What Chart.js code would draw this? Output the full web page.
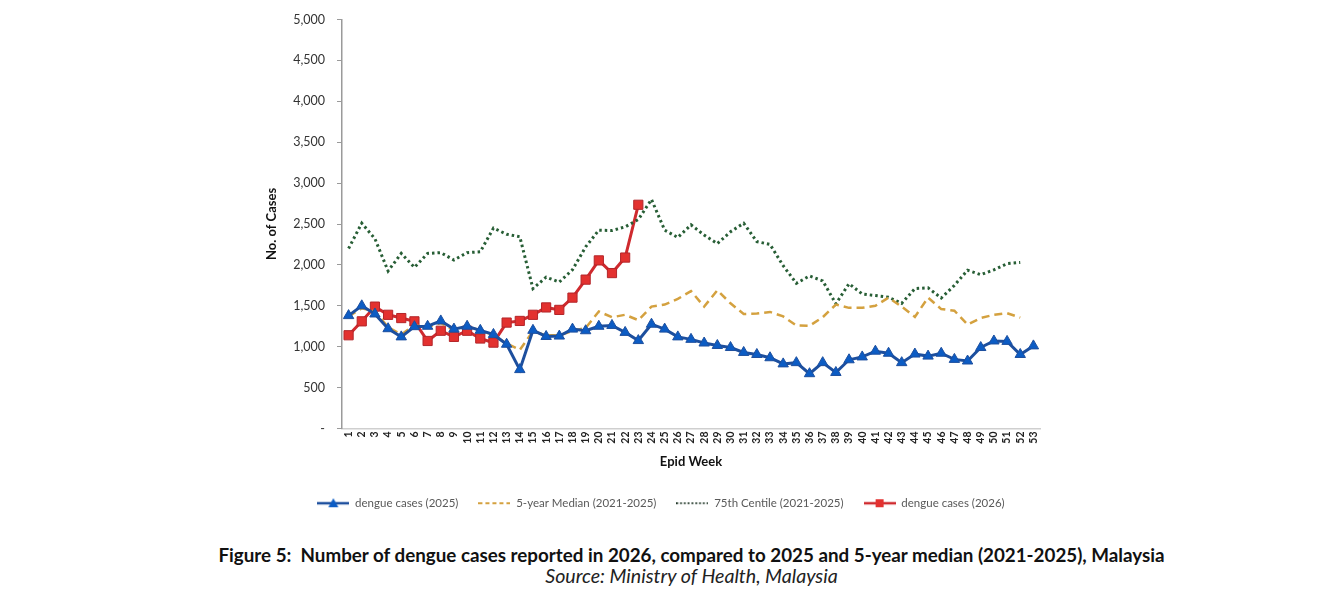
<!DOCTYPE html>
<html>
<head>
<meta charset="utf-8">
<script src="https://cdn.jsdelivr.net/npm/chart.js@4.4.1/dist/chart.umd.min.js"></script>
<style>
  html, body { margin: 0; padding: 0; background: #fff; }
  #wrap { position: relative; width: 1331px; height: 594px; overflow: hidden; }
  #chartBox { position: absolute; left: 0; top: 0; width: 1331px; height: 530px; }
  .cap { position: absolute; left: 26px; width: 1331px; text-align: center; font-family: Lato, "Liberation Sans", sans-serif; color: #111; white-space: nowrap; line-height: 1.2; }
  #fig { top: 544px; font-weight: bold; font-size: 18.8px; }
  #src { top: 564px; font-style: italic; font-size: 19.6px; color: #222; }
</style>
</head>
<body>
<div id="wrap">
  <div id="chartBox"><canvas id="chart"></canvas></div>
  <div class="cap" id="fig">Figure 5:&nbsp; Number of dengue cases reported in 2026, compared to 2025 and 5-year median (2021-2025), Malaysia</div>
  <div class="cap" id="src">Source: Ministry of Health, Malaysia</div>
</div>
<script>
(() => {
  "use strict";

// data
const weeks = ["1","2","3","4","5","6","7","8","9","10","11","12","13","14","15","16","17","18","19","20",
  "21","22","23","24","25","26","27","28","29","30","31","32","33","34","35","36","37","38","39","40",
  "41","42","43","44","45","46","47","48","49","50","51","52","53"];

const cases2025 = [1380,1500,1400,1220,1120,1245,1250,1315,1215,1250,1200,1150,1030,720,1200,1125,1130,1215,1195,1250,
  1260,1175,1075,1275,1215,1120,1090,1045,1015,990,930,905,865,790,805,670,805,685,840,875,
  945,920,805,910,885,920,845,825,990,1070,1065,905,1010];

const median5y = [1370,1470,1430,1240,1150,1260,1240,1290,1200,1250,1200,1140,1040,960,1190,1140,1140,1190,1230,1430,
  1360,1390,1325,1490,1515,1585,1680,1490,1690,1530,1400,1405,1425,1370,1260,1255,1360,1515,1475,1475,
  1500,1600,1490,1365,1600,1460,1440,1270,1350,1390,1410,1355,null];

const centile75 = [2200,2510,2320,1925,2140,1970,2140,2150,2060,2150,2160,2450,2375,2345,1710,1850,1790,1940,2220,2425,
  2420,2465,2555,2800,2425,2335,2490,2365,2260,2405,2510,2285,2250,1990,1775,1865,1805,1525,1770,1645,
  1625,1605,1530,1710,1720,1595,1750,1935,1880,1940,2015,2030,null];

const cases2026 = [1140,1310,1490,1390,1350,1310,1070,1195,1120,1195,1100,1050,1295,1315,1390,1480,1450,1600,1820,2055,
  1900,2090,2735];

const yTicks = [0,500,1000,1500,2000,2500,3000,3500,4000,4500,5000];

const FONT = "Lato, 'Liberation Sans', sans-serif";

const BLUE_LINE = "#1d4f9e";
const BLUE_PT = "#0c5cc4";
const GOLD = "#d4a13f";
const GREEN = "#275e35";
const RED_LINE = "#cf2a2e";
const RED_PT = "#e3312f";

// little line+marker swatch for the legend
function swatch(color, dash, width, marker, markerFill) {
  const c = document.createElement("canvas");
  c.width = 32; c.height = 14;
  const g = c.getContext("2d");
  g.strokeStyle = color;
  g.lineWidth = width;
  g.setLineDash(dash);
  g.beginPath(); g.moveTo(0, 7); g.lineTo(32, 7); g.stroke();
  g.setLineDash([]);
  if (marker === "triangle") {
    g.fillStyle = markerFill;
    g.beginPath(); g.moveTo(16, 2); g.lineTo(21, 11); g.lineTo(11, 11); g.closePath(); g.fill();
  } else if (marker === "rect") {
    g.fillStyle = markerFill;
    g.fillRect(12, 3, 8, 8);
  }
  return c;
}

const legendSwatches = [
  swatch(BLUE_LINE, [], 2.5, "triangle", BLUE_PT),
  swatch(GOLD, [4, 3], 2, null),
  swatch("#1e3526", [1.6, 2.2], 2, null),
  swatch(RED_LINE, [], 2.5, "rect", RED_PT)
];

const ctx = document.getElementById("chart");

new Chart(ctx, {
  type: "line",
  data: {
    labels: weeks,
    datasets: [
      { label: "dengue cases (2025)", data: cases2025, borderColor: BLUE_LINE, borderWidth: 3,
        pointStyle: "triangle", pointRadius: 6, pointBackgroundColor: BLUE_PT, pointBorderColor: BLUE_LINE, pointBorderWidth: 1 },
      { label: "5-year Median (2021-2025)", data: median5y, borderColor: GOLD, borderWidth: 2.5,
        borderDash: [8, 5], pointRadius: 0 },
      { label: "75th Centile (2021-2025)", data: centile75, borderColor: GREEN, borderWidth: 3,
        borderDash: [2.5, 3], pointRadius: 0 },
      { label: "dengue cases (2026)", data: cases2026, borderColor: RED_LINE, borderWidth: 3,
        pointStyle: "rect", pointRadius: 6.5, pointBackgroundColor: RED_PT, pointBorderColor: "#b3262a", pointBorderWidth: 1 }
    ]
  },
  options: {
    responsive: true,
    maintainAspectRatio: false,
    animation: false,
    layout: { padding: { left: 282, right: 291, top: 19, bottom: 11 } },
    elements: { line: { tension: 0 } },
    plugins: {
      tooltip: { enabled: false },
      legend: {
        position: "bottom",
        labels: {
          usePointStyle: true,
          pointStyleWidth: 32,
          padding: 20,
          color: "#595959",
          font: { family: FONT, size: 11.5 },
          generateLabels(chart) {
            return chart.data.datasets.map((ds, i) => ({
              text: ds.label,
              pointStyle: legendSwatches[i],
              fillStyle: "transparent",
              strokeStyle: "transparent",
              lineWidth: 0,
              fontColor: "#595959",
              datasetIndex: i,
              hidden: false
            }));
          }
        }
      }
    },
    scales: {
      x: {
        offset: true,
        grid: { display: false, drawTicks: false },
        border: { display: true, color: "#cfcfcf", width: 1.5, dash: [2, 2] },
        ticks: {
          autoSkip: false, minRotation: 90, maxRotation: 90, padding: 3,
          color: "#222", font: { family: FONT, size: 10.5, weight: "bold" }
        },
        title: {
          display: true, text: "Epid Week", color: "#111",
          font: { family: FONT, size: 13, weight: "bold" },
          padding: { top: 0, bottom: 8 }
        },
        afterFit(s) { s.height = 49; }
      },
      y: {
        min: 0, max: 5000,
        afterBuildTicks(s) { s.ticks = yTicks.map(v => ({ value: v })); },
        grid: { drawOnChartArea: false, drawTicks: true, tickLength: 5, color: "#9a9a9a" },
        border: { display: true, color: "#9a9a9a", width: 1.5 },
        ticks: {
          padding: 12, color: "#333",
          font: { family: FONT, size: 12.5 },
          callback: (v) => v === 0 ? "-" : Number(v).toLocaleString("en-US")
        },
        title: {
          display: true, text: "No. of Cases", color: "#111",
          font: { family: FONT, size: 13, weight: "bold" },
          padding: { top: -18, bottom: 0 }
        },
        afterFit(s) { s.width = 60; }
      }
    }
  }
});
})();
</script>
</body>
</html>
